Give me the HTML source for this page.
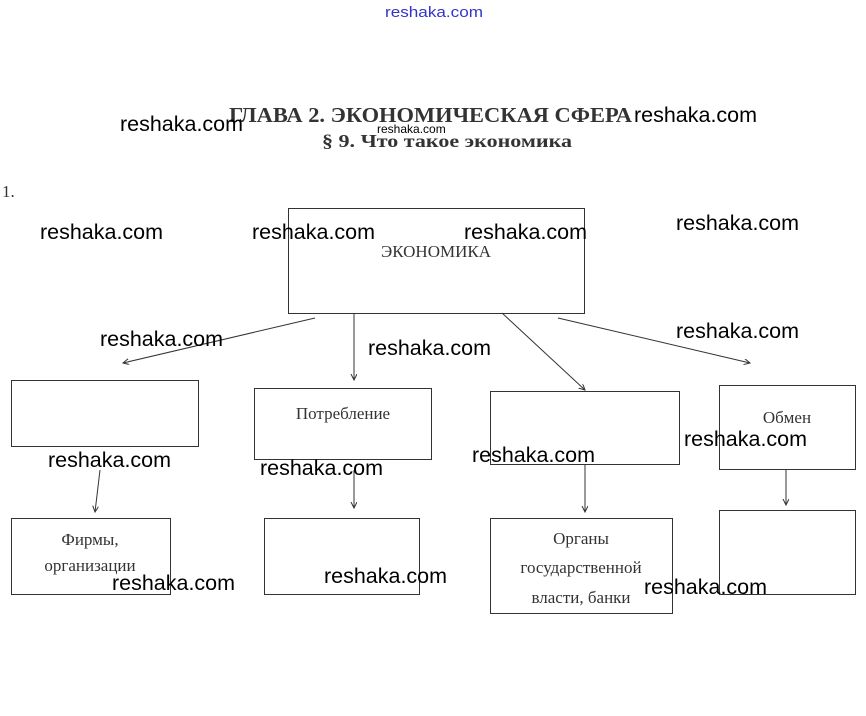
<!DOCTYPE html>
<html><head><meta charset="utf-8"><style>
html,body{margin:0;padding:0;background:#fff;}
svg{display:block;}
.w{font-family:"Liberation Sans",sans-serif;font-size:21px;fill:#000;}
.s{font-family:"Liberation Serif","Noto Serif CJK SC",serif;fill:#333;}
</style></head><body>
<svg width="866" height="716" viewBox="0 0 866 716" xmlns="http://www.w3.org/2000/svg">
<defs><marker id="a" markerWidth="8" markerHeight="8" refX="6" refY="3" orient="auto"><path d="M0,0 L6,3 L0,6" fill="none" stroke="#333" stroke-width="1"/></marker></defs>
<text x="385" y="17" font-family="Liberation Sans,sans-serif" font-size="15" fill="#3333cc" textLength="98" lengthAdjust="spacingAndGlyphs">reshaka.com</text>
<text x="229" y="122" class="s" font-size="21" font-weight="bold" fill="#222" textLength="403" lengthAdjust="spacingAndGlyphs">ГЛАВА 2. ЭКОНОМИЧЕСКАЯ СФЕРА</text>
<text x="322" y="147" class="s" font-size="18" font-weight="bold" fill="#222" textLength="250" lengthAdjust="spacingAndGlyphs">§ 9. Что такое экономика</text>
<text x="377" y="133" font-family="Liberation Sans,sans-serif" font-size="12" fill="#000">reshaka.com</text>
<text x="2" y="197" class="s" font-size="17">1.</text>
<g fill="none" stroke="#333" stroke-width="1">
<rect x="288.5" y="208.5" width="296" height="105"/>
<rect x="11.5" y="380.5" width="187" height="66"/>
<rect x="254.5" y="388.5" width="177" height="71"/>
<rect x="490.5" y="391.5" width="189" height="73"/>
<rect x="719.5" y="385.5" width="136" height="84"/>
<rect x="11.5" y="518.5" width="159" height="76"/>
<rect x="264.5" y="518.5" width="155" height="76"/>
<rect x="490.5" y="518.5" width="182" height="95"/>
<rect x="719.5" y="510.5" width="136" height="84"/>
<g marker-end="url(#a)">
<line x1="315" y1="318" x2="123" y2="363"/>
<line x1="354" y1="314" x2="354" y2="380"/>
<line x1="502" y1="313" x2="585" y2="390"/>
<line x1="558" y1="318" x2="750" y2="363"/>
<line x1="100" y1="470" x2="95" y2="512"/>
<line x1="354" y1="470" x2="354" y2="508"/>
<line x1="585" y1="464" x2="585" y2="512"/>
<line x1="786" y1="469" x2="786" y2="505"/>
</g></g>
<text x="436" y="257" text-anchor="middle" class="s" font-size="17">ЭКОНОМИКА</text>
<text x="343" y="419" text-anchor="middle" class="s" font-size="17">Потребление</text>
<text x="787" y="423" text-anchor="middle" class="s" font-size="17">Обмен</text>
<text x="90" y="545" text-anchor="middle" class="s" font-size="17">Фирмы,</text>
<text x="90" y="571" text-anchor="middle" class="s" font-size="17">организации</text>
<text x="581" y="544" text-anchor="middle" class="s" font-size="17">Органы</text>
<text x="581" y="573" text-anchor="middle" class="s" font-size="17">государственной</text>
<text x="581" y="603" text-anchor="middle" class="s" font-size="17">власти, банки</text>
<g class="w">
<text x="120" y="131" textLength="123" lengthAdjust="spacingAndGlyphs">reshaka.com</text>
<text x="634" y="122" textLength="123" lengthAdjust="spacingAndGlyphs">reshaka.com</text>
<text x="40" y="239" textLength="123" lengthAdjust="spacingAndGlyphs">reshaka.com</text>
<text x="252" y="239" textLength="123" lengthAdjust="spacingAndGlyphs">reshaka.com</text>
<text x="464" y="239" textLength="123" lengthAdjust="spacingAndGlyphs">reshaka.com</text>
<text x="676" y="230" textLength="123" lengthAdjust="spacingAndGlyphs">reshaka.com</text>
<text x="100" y="346" textLength="123" lengthAdjust="spacingAndGlyphs">reshaka.com</text>
<text x="368" y="355" textLength="123" lengthAdjust="spacingAndGlyphs">reshaka.com</text>
<text x="676" y="338" textLength="123" lengthAdjust="spacingAndGlyphs">reshaka.com</text>
<text x="48" y="467" textLength="123" lengthAdjust="spacingAndGlyphs">reshaka.com</text>
<text x="260" y="475" textLength="123" lengthAdjust="spacingAndGlyphs">reshaka.com</text>
<text x="472" y="462" textLength="123" lengthAdjust="spacingAndGlyphs">reshaka.com</text>
<text x="684" y="446" textLength="123" lengthAdjust="spacingAndGlyphs">reshaka.com</text>
<text x="112" y="590" textLength="123" lengthAdjust="spacingAndGlyphs">reshaka.com</text>
<text x="324" y="583" textLength="123" lengthAdjust="spacingAndGlyphs">reshaka.com</text>
<text x="644" y="594" textLength="123" lengthAdjust="spacingAndGlyphs">reshaka.com</text>
</g>
</svg>
</body></html>
